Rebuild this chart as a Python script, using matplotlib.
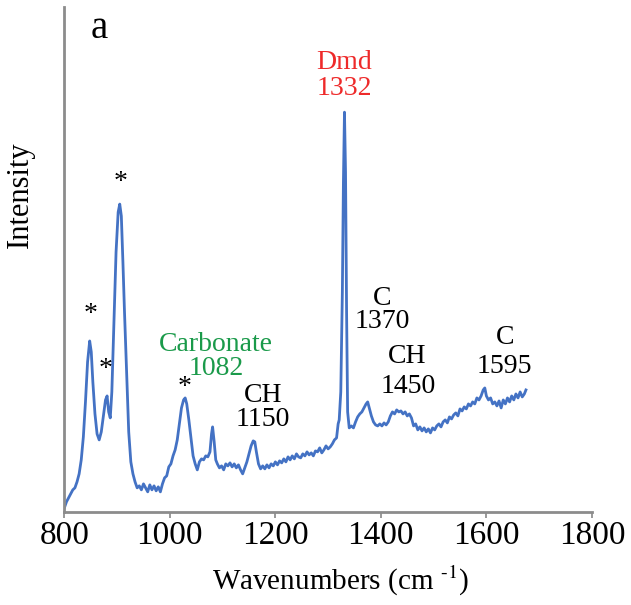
import matplotlib
matplotlib.use("Agg")
import matplotlib.pyplot as plt

plt.rcParams['font.family'] = ['Liberation Serif', 'DejaVu Serif']
plt.rcParams['mathtext.fontset'] = 'stix'

# Raman spectrum (wavenumber, intensity in arbitrary units)
wavenumber = [
    800, 804, 808, 812, 816, 820, 824, 828, 832, 836, 840, 844, 848, 851, 854, 858,
    862, 866, 870, 874, 878, 881, 884, 887, 890, 894, 898, 902, 905, 908, 911, 914,
    918, 922, 926, 930, 934, 938, 942, 946, 950, 954, 958, 962, 966, 970, 974, 978,
    982, 986, 990, 994, 998, 1002, 1006, 1010, 1014, 1018, 1022, 1026, 1029, 1032,
    1036, 1040, 1044, 1048, 1052, 1056, 1060, 1064, 1068, 1072, 1076, 1079, 1081,
    1084, 1087, 1090, 1094, 1098, 1102, 1106, 1110, 1114, 1118, 1122, 1126, 1130,
    1134, 1138, 1142, 1146, 1150, 1154, 1158, 1161, 1164, 1168, 1172, 1176, 1180,
    1184, 1188, 1192, 1196, 1200, 1204, 1208, 1212, 1216, 1220, 1224, 1228, 1232,
    1236, 1240, 1244, 1248, 1252, 1256, 1260, 1264, 1268, 1272, 1276, 1280, 1284,
    1288, 1292, 1296, 1300, 1304, 1308, 1312, 1316, 1319, 1321, 1324, 1327, 1329,
    1331, 1333, 1335, 1337, 1340, 1344, 1348, 1352, 1356, 1360, 1364, 1368, 1372,
    1375, 1378, 1382, 1386, 1390, 1394, 1398, 1402, 1406, 1410, 1414, 1418, 1422,
    1426, 1430, 1434, 1438, 1442, 1446, 1450, 1454, 1458, 1462, 1466, 1470, 1474,
    1478, 1482, 1486, 1490, 1494, 1498, 1502, 1506, 1510, 1514, 1518, 1522, 1526,
    1530, 1534, 1538, 1542, 1546, 1550, 1554, 1558, 1562, 1566, 1570, 1574, 1578,
    1582, 1586, 1590, 1594, 1597, 1600, 1604, 1608, 1612, 1616, 1620, 1624, 1628,
    1632, 1636, 1640, 1644, 1648, 1652, 1656, 1660, 1664, 1668, 1672, 1675,
]
intensity = [
    4, 10, 14, 18, 22, 24, 30, 38, 52, 75, 110, 150, 171, 160, 130, 98,
    78, 72, 80, 96, 112, 116, 100, 94, 120, 190, 260, 300, 308, 296, 250, 200,
    140, 80, 50, 38, 30, 24, 26, 22, 28, 24, 20, 27, 22, 26, 21, 25,
    20, 28, 34, 36, 45, 48, 56, 62, 72, 88, 104, 112, 114, 108,
    92, 74, 56, 48, 42, 50, 53, 52, 56, 55, 60, 78, 85,
    70, 52, 48, 44, 46, 42, 48, 46, 49, 45, 48, 44, 47,
    42, 38, 44, 50, 58, 66, 71, 70, 60, 48, 43, 46, 43,
    47, 44, 48, 46, 50, 47, 51, 49, 53, 50, 55, 52, 56,
    53, 58, 55, 54, 58, 56, 60, 57, 59, 56, 61, 60, 64,
    59, 62, 66, 63, 65, 68, 72, 74, 88, 92, 120, 220, 330,
    400, 340, 200, 100, 84, 86, 84, 90, 95, 98, 100, 104, 108,
    110, 104, 96, 90, 87, 86, 88, 86, 89, 87, 90, 96, 100,
    98, 102, 100, 101, 98, 100, 96, 98, 94, 86, 88, 82, 85,
    81, 84, 80, 83, 79, 84, 82, 86, 88, 85, 90, 92, 89,
    95, 93, 97, 99, 96, 103, 101, 105, 103, 108, 106, 110, 108,
    114, 112, 116, 122, 124, 116, 112, 114, 108, 110, 106, 111, 104,
    112, 108, 114, 110, 116, 112, 118, 114, 120, 115, 118, 122,
]

# peak labels: (x, y, text, colour)
labels = [
    (850, 197, "*", "black"),
    (879, 142, "*", "black"),
    (907, 330, "*", "black"),
    (1028, 124, "*", "black"),
    (1087, 167, "Carbonate", "#1a9a4a"),
    (1087, 143, "1082", "#1a9a4a"),
    (1176, 116, "CH", "black"),
    (1176, 92, "1150", "black"),
    (1331, 450, "Dmd", "#ee2a2a"),
    (1331, 424, "1332", "#ee2a2a"),
    (1403, 214, "C", "black"),
    (1403, 190, "1370", "black"),
    (1450, 155, "CH", "black"),
    (1452, 125, "1450", "black"),
    (1635, 174, "C", "black"),
    (1635, 145, "1595", "black"),
]

fig = plt.figure(figsize=(6.31, 6.05), dpi=100)
ax = fig.add_axes([0.102, 0.154, 0.836, 0.834])
ax.plot(wavenumber, intensity, color="#4472c4", linewidth=2.0)

for x, y, txt, col in labels:
    size = 20 if txt == "*" else 20
    ax.text(x, y, txt, color=col, fontsize=size, ha="center", va="center")

ax.text(867, 484, "a", fontsize=28, ha="center", va="center")

ax.set_xlim(800, 1800)
ax.set_ylim(0, 505)
ax.set_xticks([800, 1000, 1200, 1400, 1600, 1800])
ax.set_yticks([])
ax.tick_params(axis="x", direction="out", length=4, width=1.2, color="#888888",
               labelsize=24, pad=2)
for side in ["top", "right"]:
    ax.spines[side].set_visible(False)
for side in ["left", "bottom"]:
    ax.spines[side].set_color("#8c8c8c")
    ax.spines[side].set_linewidth(2)

fig.text(0.032, 0.678, "Intensity", rotation=90, fontsize=22, ha="center", va="center")
fig.text(0.54, 0.04, r"Wavenumbers (cm $^{\text{-}1}$)", fontsize=21, ha="center", va="center")

plt.savefig("out.png", dpi=100)
